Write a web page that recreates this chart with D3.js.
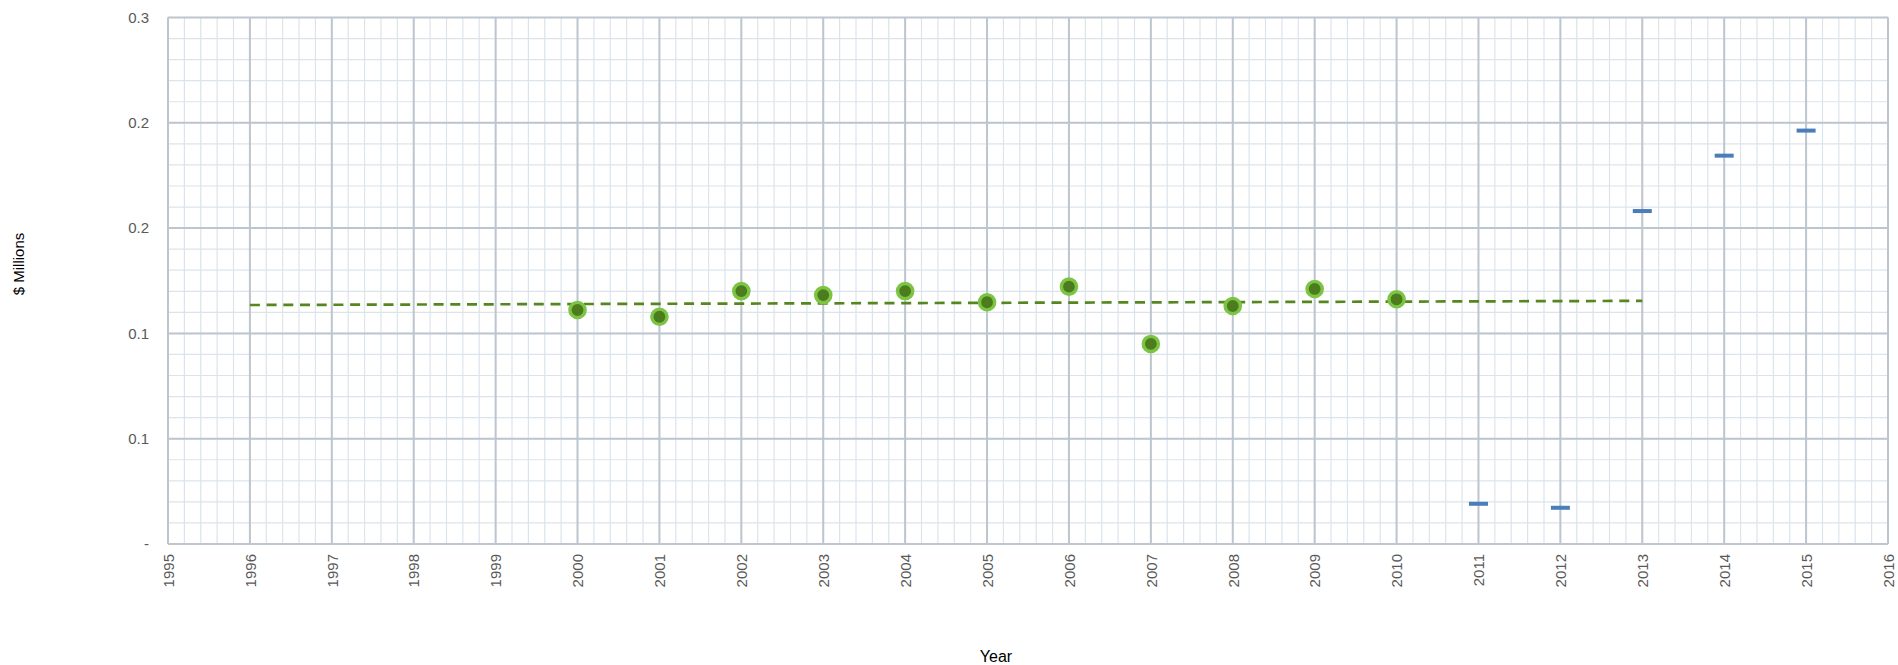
<!DOCTYPE html>
<html>
<head>
<meta charset="utf-8">
<script src="https://cdn.jsdelivr.net/npm/d3@7"></script>
<style>
  html, body { margin: 0; padding: 0; background: #fff; }
  svg { display: block; font-family: "Liberation Sans", Arial, sans-serif; }
</style>
</head>
<body>
<svg id="chart" width="1898" height="665"></svg>
<script>
// Annual values, $ millions
const actualYears = [2000, 2001, 2002, 2003, 2004, 2005, 2006, 2007, 2008, 2009, 2010];
const actualValues = [0.1111, 0.1079, 0.1201, 0.1182, 0.1201, 0.1148, 0.1222, 0.0950, 0.1130, 0.1211, 0.1162];

const laterYears = [2011, 2012, 2013, 2014, 2015];
const laterValues = [0.0191, 0.0172, 0.1581, 0.1844, 0.1963];

// Axis ticks and their printed labels (one decimal place)
const yearTicks = d3.range(1995, 2017);
const valueTicks = [0, 0.05, 0.10, 0.15, 0.20, 0.25];
const valueTickLabels = ["-", "0.1", "0.1", "0.2", "0.2", "0.3"];

// Extent of the fitted trend line
const trendFrom = 1996, trendTo = 2013;

const svg = d3.select("#chart");
const plot = { left: 168, top: 17.5, right: 1888, bottom: 544 };

const x = d3.scaleLinear().domain([1995, 2016]).range([plot.left, plot.right]);
const y = d3.scaleLinear().domain([0, 0.25]).range([plot.bottom, plot.top]);

const grid = svg.append("g");

// Minor grid
const minorX = d3.range(1995, 2016.001, 0.2);
const minorY = d3.range(0, 0.2501, 0.01);
grid.selectAll(".mx").data(minorX).join("line")
  .attr("x1", d => x(d)).attr("x2", d => x(d))
  .attr("y1", plot.top).attr("y2", plot.bottom)
  .attr("stroke", "#dbe4ec").attr("stroke-width", 1.2);
grid.selectAll(".my").data(minorY).join("line")
  .attr("x1", plot.left).attr("x2", plot.right)
  .attr("y1", d => y(d)).attr("y2", d => y(d))
  .attr("stroke", "#dbe4ec").attr("stroke-width", 1.2);

// Major grid
grid.selectAll(".MX").data(yearTicks).join("line")
  .attr("x1", d => x(d)).attr("x2", d => x(d))
  .attr("y1", plot.top).attr("y2", plot.bottom)
  .attr("stroke", "#bdc5cf").attr("stroke-width", 2);
grid.selectAll(".MY").data(valueTicks).join("line")
  .attr("x1", plot.left).attr("x2", plot.right)
  .attr("y1", d => y(d)).attr("y2", d => y(d))
  .attr("stroke", "#bdc5cf").attr("stroke-width", 2);

// Axes (labels only; the grid draws the lines)
const yAxis = d3.axisLeft(y)
  .tickValues(valueTicks)
  .tickFormat((d, i) => valueTickLabels[i])
  .tickSize(0).tickPadding(19);
const yg = svg.append("g").attr("transform", `translate(${plot.left},0)`).call(yAxis);
yg.select(".domain").remove();
yg.selectAll("text").attr("fill", "#595959").style("font-size", "15px")
  .style("font-family", "'Liberation Sans', Arial, sans-serif");

const xAxis = d3.axisBottom(x)
  .tickValues(yearTicks)
  .tickFormat(d3.format("d"))
  .tickSize(0);
const xg = svg.append("g").attr("transform", `translate(0,${plot.bottom})`).call(xAxis);
xg.select(".domain").remove();
xg.selectAll("text")
  .attr("fill", "#595959").style("font-size", "15px")
  .style("font-family", "'Liberation Sans', Arial, sans-serif")
  .attr("transform", "rotate(-90)")
  .attr("text-anchor", "end")
  .attr("x", -10).attr("y", 0).attr("dy", "0.35em");

// Linear least-squares trend through the 2000-2010 values
const mx = d3.mean(actualYears), my = d3.mean(actualValues);
const slope = d3.sum(actualYears, (t, i) => (t - mx) * (actualValues[i] - my)) /
              d3.sum(actualYears, t => (t - mx) * (t - mx));
const trendAt = t => my + slope * (t - mx);

svg.append("line")
  .attr("x1", x(trendFrom)).attr("y1", y(trendAt(trendFrom)))
  .attr("x2", x(trendTo)).attr("y2", y(trendAt(trendTo)))
  .attr("stroke", "#56861f").attr("stroke-width", 2.7)
  .attr("stroke-dasharray", "10,6.7");

// 2000-2010 markers
svg.append("g").selectAll("circle")
  .data(actualYears.map((t, i) => ({ t, v: actualValues[i] })))
  .join("circle")
  .attr("cx", d => x(d.t)).attr("cy", d => y(d.v))
  .attr("r", 7.6)
  .attr("fill", "#4c7c1d")
  .attr("stroke", "#7cc444").attr("stroke-width", 3.4);

// 2011-2015 dash markers
svg.append("g").selectAll("rect")
  .data(laterYears.map((t, i) => ({ t, v: laterValues[i] })))
  .join("rect")
  .attr("x", d => x(d.t) - 9.5).attr("y", d => y(d.v) - 2)
  .attr("width", 19).attr("height", 4)
  .attr("fill", "#4a7ebb");

// Axis titles
svg.append("text")
  .attr("transform", "translate(24,264) rotate(-90)")
  .attr("text-anchor", "middle")
  .style("font-size", "15px").attr("fill", "#000")
  .text("$ Millions");

svg.append("text")
  .attr("x", 996).attr("y", 662)
  .attr("text-anchor", "middle")
  .style("font-size", "16px").attr("fill", "#000")
  .text("Year");
</script>
</body>
</html>
